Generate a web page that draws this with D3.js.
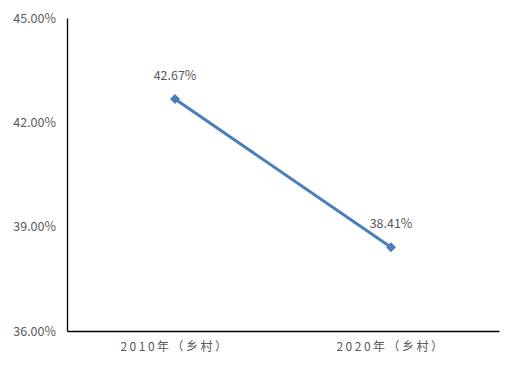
<!DOCTYPE html>
<html><head><meta charset="utf-8">
<script src="https://cdn.jsdelivr.net/npm/d3@7"></script>
<style>body{margin:0;background:#fff}</style>
</head><body><svg id="c" width="517" height="368"></svg>
<script>
const categories = ["2010年（乡村）", "2020年（乡村）"];
const values = [42.67, 38.41];
const yTicks = [36, 39, 42, 45];

const svg = d3.select("#c");
const m = {l: 67, r: 499, t: 18, b: 331};
const x = d3.scaleBand().domain(categories).range([m.l, m.r]);
const y = d3.scaleLinear().domain([36, 45]).range([m.b, m.t]);
const font = "'Microsoft YaHei','Noto Sans CJK SC','DejaVu Sans',sans-serif";
const gray = "#595959";

// y axis
const ya = svg.append("g").attr("transform", `translate(${m.l},0)`)
  .call(d3.axisLeft(y).tickValues(yTicks).tickSize(0).tickPadding(11).tickFormat(d => d.toFixed(2) + "%"));
ya.select(".domain").attr("stroke", "#000").attr("stroke-width", 1.3);
ya.selectAll("text").attr("fill", gray).style("font-family", font).style("font-size", "12.5px");

// x axis
const xa = svg.append("g").attr("transform", `translate(0,${m.b})`)
  .call(d3.axisBottom(x).tickSize(0).tickPadding(11));
xa.select(".domain").attr("stroke", "#000").attr("stroke-width", 1.3);
xa.selectAll("text").attr("fill", gray).style("font-family", font).style("font-size", "12px").style("letter-spacing", "2.5px");

const pts = categories.map((c, i) => [x(c) + x.bandwidth() / 2, y(values[i])]);
svg.append("path").attr("d", d3.line()(pts)).attr("fill", "none")
  .attr("stroke", "#4a7ebb").attr("stroke-width", 3);

svg.selectAll(".mk").data(pts).join("path")
  .attr("transform", d => `translate(${d[0]},${d[1]}) rotate(45)`)
  .attr("d", d3.symbol(d3.symbolSquare, 50)())
  .attr("fill", "#4a7ebb");

svg.selectAll(".lb").data(values).join("text")
  .attr("x", (d, i) => pts[i][0])
  .attr("y", (d, i) => pts[i][1] - 19)
  .attr("text-anchor", "middle")
  .attr("fill", gray).style("font-family", font).style("font-size", "12.5px")
  .text(d => d.toFixed(2) + "%");
</script></body></html>
